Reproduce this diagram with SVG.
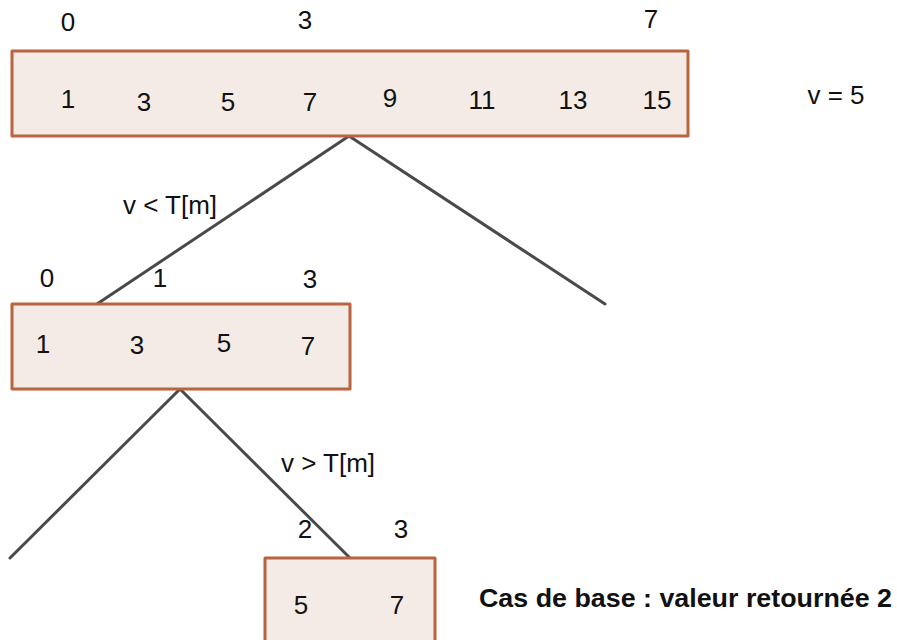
<svg xmlns="http://www.w3.org/2000/svg" width="897" height="640" viewBox="0 0 897 640">
<style>
.box{fill:#f4ebe7;stroke:#b8653f;stroke-width:3;stroke-linejoin:round}
.t{font-family:"Liberation Sans",Arial,sans-serif;font-size:26px;fill:#111;text-anchor:middle}
.b{font-family:"Liberation Sans",Arial,sans-serif;font-size:25px;font-weight:bold;fill:#111}
.edge{stroke:#4a4a4a;stroke-width:3;stroke-linecap:round;fill:none}
</style>
<rect width="897" height="640" fill="#fff"/>
<g id="connectors">
<line class="edge" x1="349" y1="136" x2="97" y2="304"/>
<line class="edge" x1="349" y1="136" x2="605" y2="304"/>
<line class="edge" x1="180" y1="389" x2="10" y2="558"/>
<line class="edge" x1="180" y1="389" x2="350" y2="558"/>
</g>
<g id="root">
<rect class="box" x="12" y="51" width="676" height="85"/>
<text class="t" x="68" y="31">0</text>
<text class="t" x="305" y="29">3</text>
<text class="t" x="651" y="28">7</text>
<text class="t" x="68" y="108">1</text>
<text class="t" x="144" y="111">3</text>
<text class="t" x="228" y="111">5</text>
<text class="t" x="310" y="111">7</text>
<text class="t" x="390" y="107">9</text>
<text class="t" x="482" y="109">11</text>
<text class="t" x="573" y="109">13</text>
<text class="t" x="657" y="109">15</text>
</g>
<g id="mid">
<rect class="box" x="12" y="304" width="338" height="85"/>
<text class="t" x="47" y="287">0</text>
<text class="t" x="160" y="287">1</text>
<text class="t" x="310" y="288">3</text>
<text class="t" x="43" y="353">1</text>
<text class="t" x="137" y="354">3</text>
<text class="t" x="224" y="352">5</text>
<text class="t" x="308" y="355">7</text>
</g>
<g id="leaf">
<rect class="box" x="265" y="558" width="170" height="100"/>
<text class="t" x="305" y="538">2</text>
<text class="t" x="401" y="538">3</text>
<text class="t" x="301" y="614">5</text>
<text class="t" x="397" y="614">7</text>
</g>
<g id="labels">
<text class="t" x="836" y="104">v = 5</text>
<text class="t" x="170" y="214">v &lt; T[m]</text>
<text class="t" x="328" y="472">v &gt; T[m]</text>
<text class="b" x="479" y="607" textLength="413" lengthAdjust="spacingAndGlyphs">Cas de base : valeur retournée 2</text>
</g>
</svg>
